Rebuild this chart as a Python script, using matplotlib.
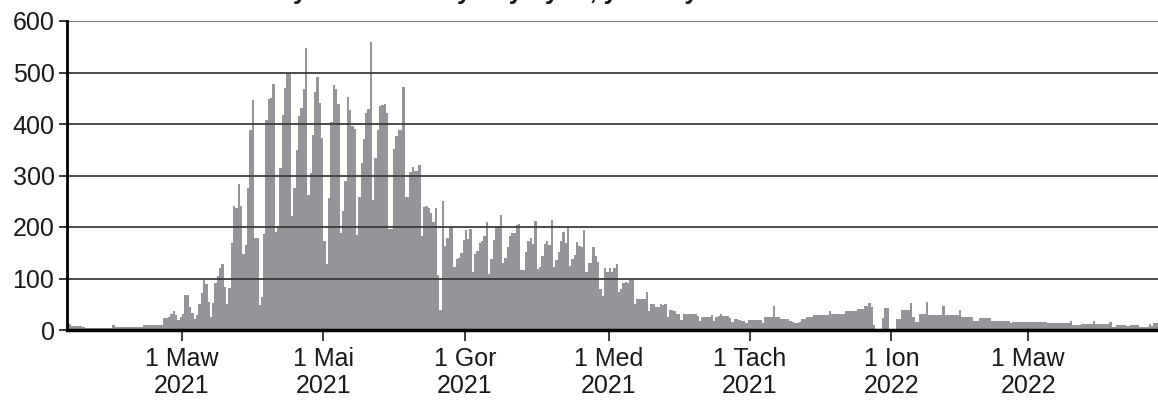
import matplotlib
matplotlib.use("Agg")
import matplotlib.pyplot as plt
import matplotlib.dates as mdates
import numpy as np
import pandas as pd

plt.rcParams["font.family"] = ["Liberation Sans", "DejaVu Sans"]

start = "2021-01-10"
title = "Nifer y cleifion newydd y dydd, yn ôl dyddiad"

# daily counts, one value per day from the start date
counts = [
    20, 12, 8, 7, 7, 7, 7, 6, 4, 4,
    4, 4, 4, 4, 4, 4, 4, 4, 4, 4,
    10, 5, 5, 5, 5, 5, 5, 5, 5, 5,
    5, 5, 5, 9, 9, 9, 9, 9, 9, 9,
    9, 9, 23, 23, 26, 32, 36, 30, 20, 25,
    32, 68, 68, 45, 33, 22, 30, 50, 72, 97,
    90, 55, 26, 53, 92, 105, 120, 128, 84, 51,
    81, 169, 241, 237, 283, 240, 148, 165, 276, 388,
    446, 178, 178, 49, 65, 186, 407, 449, 450, 477,
    191, 201, 314, 418, 470, 500, 500, 222, 276, 350,
    416, 431, 468, 548, 262, 305, 379, 462, 492, 441,
    373, 172, 128, 256, 403, 475, 468, 438, 188, 232,
    289, 453, 428, 396, 390, 185, 258, 324, 370, 421,
    429, 559, 252, 334, 389, 434, 436, 438, 421, 196,
    196, 351, 376, 389, 389, 472, 259, 259, 306, 316,
    308, 308, 321, 182, 239, 241, 237, 227, 209, 237,
    107, 39, 250, 163, 178, 198, 198, 123, 137, 140,
    149, 175, 195, 176, 196, 112, 148, 154, 169, 172,
    182, 209, 109, 137, 175, 202, 202, 224, 130, 139,
    162, 182, 189, 189, 204, 206, 117, 117, 152, 172,
    178, 167, 211, 118, 123, 143, 167, 172, 165, 213,
    122, 136, 152, 172, 191, 169, 200, 125, 137, 146,
    170, 163, 162, 195, 113, 131, 131, 162, 144, 133,
    79, 66, 120, 112, 120, 112, 120, 128, 73, 79,
    91, 94, 91, 97, 97, 51, 60, 60, 60, 60,
    73, 36, 51, 51, 45, 45, 51, 48, 51, 26,
    39, 39, 36, 32, 32, 19, 31, 31, 31, 31,
    32, 32, 27, 18, 26, 26, 26, 26, 29, 18,
    26, 27, 32, 27, 27, 27, 23, 16, 21, 21,
    19, 18, 18, 14, 19, 19, 19, 19, 19, 19,
    14, 25, 25, 25, 25, 47, 25, 25, 21, 21,
    21, 21, 18, 16, 14, 13, 15, 21, 21, 26,
    26, 26, 30, 30, 30, 30, 30, 30, 30, 36,
    31, 31, 31, 31, 31, 31, 36, 36, 36, 36,
    36, 41, 41, 41, 47, 47, 53, 45, 10, 0,
    0, 0, 23, 43, 43, 0, 2, 2, 21, 21,
    38, 38, 38, 38, 53, 25, 15, 15, 32, 32,
    32, 55, 30, 30, 30, 30, 30, 30, 47, 30,
    30, 30, 30, 30, 30, 39, 25, 25, 25, 25,
    25, 17, 17, 17, 23, 23, 23, 23, 23, 18,
    18, 18, 18, 18, 18, 18, 18, 13, 15, 15,
    15, 15, 15, 15, 15, 15, 15, 15, 15, 15,
    15, 15, 15, 13, 13, 13, 13, 13, 13, 13,
    13, 13, 13, 17, 10, 10, 10, 10, 12, 12,
    12, 12, 12, 17, 12, 12, 12, 12, 12, 12,
    15, 6, 6, 10, 10, 10, 10, 8, 8, 10,
    10, 10, 10, 5, 5, 5, 5, 12, 8, 13,
    13,
]

month_names = {1: "Ion", 3: "Maw", 5: "Mai", 7: "Gor", 9: "Med", 11: "Tach"}
y_ticks = [0, 100, 200, 300, 400, 500, 600]

days = pd.date_range(start, periods=len(counts), freq="D")

fig = plt.figure(figsize=(11.58, 4.01), dpi=100)
ax = fig.add_axes([67 / 1158, 71 / 401, 1 - 67 / 1158, 309 / 401])

ax.bar(days, counts, width=1.0, align="edge", color="#939598", linewidth=0, zorder=1)

ax.set_xlim(days[0] + pd.Timedelta(hours=9), days[0] + pd.Timedelta(days=471))
ax.set_ylim(0, 600)
ax.set_yticks(y_ticks)

for v in y_ticks[1:]:
    ax.axhline(v, color="#3c3c3c" if v < 600 else "#6e6e6e", lw=1.3, zorder=2)

ax.xaxis.set_major_locator(mdates.MonthLocator(bymonth=[1, 3, 5, 7, 9, 11]))
ax.xaxis.set_major_formatter(
    plt.FuncFormatter(
        lambda x, pos: "1 {}\n{}".format(
            month_names[mdates.num2date(x).month], mdates.num2date(x).year
        )
    )
)

for side in ["top", "right"]:
    ax.spines[side].set_visible(False)
ax.spines["left"].set_linewidth(2)
ax.spines["bottom"].set_linewidth(2.5)
ax.spines["left"].set_zorder(3)
ax.spines["bottom"].set_zorder(3)

ax.tick_params(axis="y", length=6, width=1.2, labelsize=18, pad=3, colors="#1a1a1a")
ax.tick_params(axis="x", length=8, width=1.2, labelsize=18, pad=4, colors="#1a1a1a")
for lab in ax.get_xticklabels():
    lab.set_linespacing(1.17)

# title sits just above the canvas edge
fig.text(0.429, 1 + 0.5 / 401, title, ha="center", va="baseline",
         fontsize=18, fontweight="bold", color="#1a1a1a")

fig.savefig("out.png", dpi=100)
